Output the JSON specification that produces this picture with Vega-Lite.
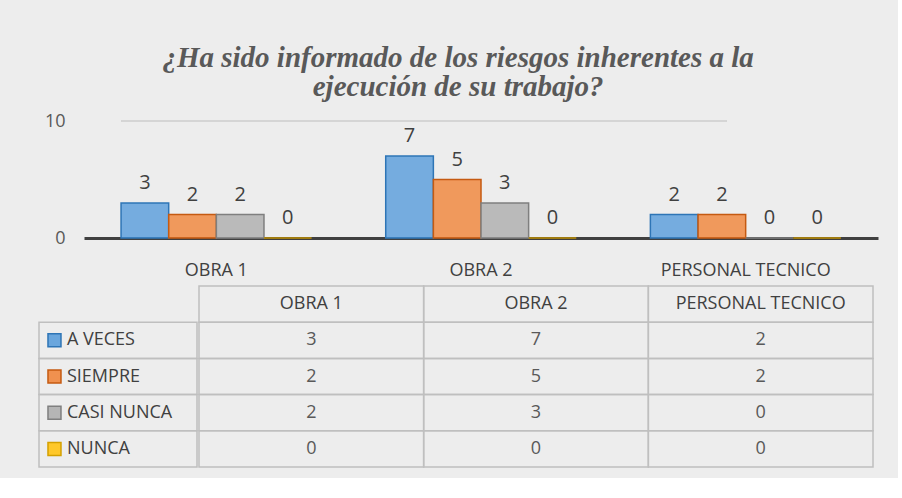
{
  "$schema": "https://vega.github.io/schema/vega-lite/v6.json",
  "background": "#ededed",
  "padding": {"left": 38, "top": 44, "right": 20, "bottom": 10},
  "title": {
    "text": ["¿Ha sido informado de los riesgos inherentes a la", "ejecución de su trabajo?"],
    "font": "Liberation Serif", "fontSize": 29, "fontWeight": "bold", "fontStyle": "italic",
    "color": "#595959", "lineHeight": 29, "anchor": "middle", "offset": 10
  },
  "config": {"font": "Open Sans", "view": {"stroke": null}},
  "datasets": {
    "d": [
      {"cat": "OBRA 1", "serie": "A VECES", "value": 3},
      {"cat": "OBRA 1", "serie": "SIEMPRE", "value": 2},
      {"cat": "OBRA 1", "serie": "CASI NUNCA", "value": 2},
      {"cat": "OBRA 1", "serie": "NUNCA", "value": 0},
      {"cat": "OBRA 2", "serie": "A VECES", "value": 7},
      {"cat": "OBRA 2", "serie": "SIEMPRE", "value": 5},
      {"cat": "OBRA 2", "serie": "CASI NUNCA", "value": 3},
      {"cat": "OBRA 2", "serie": "NUNCA", "value": 0},
      {"cat": "PERSONAL TECNICO", "serie": "A VECES", "value": 2},
      {"cat": "PERSONAL TECNICO", "serie": "SIEMPRE", "value": 2},
      {"cat": "PERSONAL TECNICO", "serie": "CASI NUNCA", "value": 0},
      {"cat": "PERSONAL TECNICO", "serie": "NUNCA", "value": 0}
    ],
    "cols": [
      {"cat": "OBRA 1", "row": "hdr"},
      {"cat": "OBRA 2", "row": "hdr"},
      {"cat": "PERSONAL TECNICO", "row": "hdr"}
    ],
    "series": [
      {"serie": "A VECES"},
      {"serie": "SIEMPRE"},
      {"serie": "CASI NUNCA"},
      {"serie": "NUNCA"}
    ]
  },
  "resolve": {"scale": {"x": "independent", "y": "independent", "fill": "independent", "stroke": "independent"}},
  "spacing": 6,
  "vconcat": [
    {
      "width": 839,
      "height": 117,
      "data": {"name": "d"},
      "encoding": {
        "x": {
          "field": "cat", "type": "nominal", "sort": ["OBRA 1", "OBRA 2", "PERSONAL TECNICO"],
          "scale": {"paddingInner": 0.28, "paddingOuter": 0.14, "range": [45, 839]},
          "axis": {"title": null, "labelAngle": 0, "ticks": false, "tickSize": 0, "labelPadding": 23,
                   "labelFontSize": 18, "labelColor": "#404040", "domainColor": "#404040", "domainWidth": 3,
                   "labelFont": "Open Sans"}
        },
        "xOffset": {
          "field": "serie", "type": "nominal", "sort": ["A VECES", "SIEMPRE", "CASI NUNCA", "NUNCA"],
          "scale": {"paddingInner": 0}
        },
        "y": {
          "field": "value", "type": "quantitative", "scale": {"domain": [0, 10]},
          "axis": {"title": null, "values": [0, 10], "domain": false, "ticks": false, "grid": false,
                   "labelPadding": 19, "offset": -45,
                   "labelFontSize": 18, "labelColor": "#595959", "labelFont": "Open Sans"}
        }
      },
      "layer": [
        {
          "mark": {"type": "rule", "color": "#d4d4d4", "strokeWidth": 1.5},
          "encoding": {
            "x": {"datum": "OBRA 1", "bandPosition": 0.3},
            "x2": {"datum": "PERSONAL TECNICO", "bandPosition": 0.4},
            "y": {"datum": 10},
            "xOffset": {"value": 0}
          }
        },
        {
          "mark": {"type": "bar", "fillOpacity": 0.92, "strokeWidth": 1.5},
          "encoding": {
            "fill": {"field": "serie", "type": "nominal", "legend": null,
                     "scale": {"domain": ["A VECES", "SIEMPRE", "CASI NUNCA", "NUNCA"],
                               "range": ["#6aa6dd", "#f0914f", "#b5b5b5", "#e0b000"]}},
            "stroke": {"field": "serie", "type": "nominal", "legend": null,
                       "scale": {"domain": ["A VECES", "SIEMPRE", "CASI NUNCA", "NUNCA"],
                                 "range": ["#2e75b6", "#c55a11", "#7f7f7f", "#c09000"]}}
          }
        },
        {
          "mark": {"type": "text", "baseline": "bottom", "dy": -10, "fontSize": 20, "color": "#404040"},
          "encoding": {"text": {"field": "value", "type": "quantitative"}}
        }
      ]
    },
    {
      "spacing": 0,
      "hconcat": [
        {
          "width": 158,
          "height": 181,
          "data": {"name": "series"},
          "encoding": {
            "y": {"field": "serie", "type": "nominal",
                  "scale": {"type": "band", "domain": ["hdr", "A VECES", "SIEMPRE", "CASI NUNCA", "NUNCA"], "paddingInner": 0, "paddingOuter": 0},
                  "axis": null}
          },
          "layer": [
            {
              "mark": {"type": "rect", "fill": "transparent", "stroke": "#bfbfbf", "strokeWidth": 1.5},
              "encoding": {
                "x": {"datum": 0, "type": "quantitative", "scale": {"domain": [0, 1]}, "axis": null},
                "x2": {"datum": 1}
              }
            },
            {
              "mark": {"type": "square", "size": 169, "filled": true, "strokeWidth": 1.5, "opacity": 1},
              "encoding": {
                "x": {"datum": 0.098, "type": "quantitative"},
                "fill": {"field": "serie", "type": "nominal", "legend": null,
                         "scale": {"domain": ["A VECES", "SIEMPRE", "CASI NUNCA", "NUNCA"],
                                   "range": ["#6aa6dd", "#f0914f", "#b5b5b5", "#ffc82a"]}},
                "stroke": {"field": "serie", "type": "nominal", "legend": null,
                           "scale": {"domain": ["A VECES", "SIEMPRE", "CASI NUNCA", "NUNCA"],
                                     "range": ["#2e75b6", "#c55a11", "#7f7f7f", "#d4a000"]}}
              }
            },
            {
              "mark": {"type": "text", "align": "left", "fontSize": 18, "color": "#404040"},
              "encoding": {
                "x": {"datum": 0.177, "type": "quantitative"},
                "text": {"field": "serie", "type": "nominal"}
              }
            }
          ]
        },
        {
          "width": 674,
          "height": 181,
          "encoding": {
            "x": {"field": "cat", "type": "nominal", "sort": ["OBRA 1", "OBRA 2", "PERSONAL TECNICO"],
                  "scale": {"type": "band", "domain": ["OBRA 1", "OBRA 2", "PERSONAL TECNICO"], "paddingInner": 0, "paddingOuter": 0},
                  "axis": null}
          },
          "layer": [
            {
              "data": {"name": "cols"},
              "mark": {"type": "rect", "fill": "transparent", "stroke": "#bfbfbf", "strokeWidth": 1.5},
              "encoding": {
                "y": {"field": "row", "type": "nominal",
                      "scale": {"type": "band", "domain": ["hdr", "A VECES", "SIEMPRE", "CASI NUNCA", "NUNCA"], "paddingInner": 0, "paddingOuter": 0},
                      "axis": null}
              }
            },
            {
              "data": {"name": "cols"},
              "mark": {"type": "text", "fontSize": 18, "color": "#404040"},
              "encoding": {
                "y": {"field": "row", "type": "nominal"},
                "text": {"field": "cat", "type": "nominal"}
              }
            },
            {
              "data": {"name": "d"},
              "mark": {"type": "rect", "fill": "transparent", "stroke": "#bfbfbf", "strokeWidth": 1.5},
              "encoding": {
                "y": {"field": "serie", "type": "nominal"}
              }
            },
            {
              "data": {"name": "d"},
              "mark": {"type": "text", "fontSize": 18, "color": "#595959"},
              "encoding": {
                "y": {"field": "serie", "type": "nominal"},
                "text": {"field": "value", "type": "quantitative"}
              }
            }
          ]
        }
      ]
    }
  ]
}
